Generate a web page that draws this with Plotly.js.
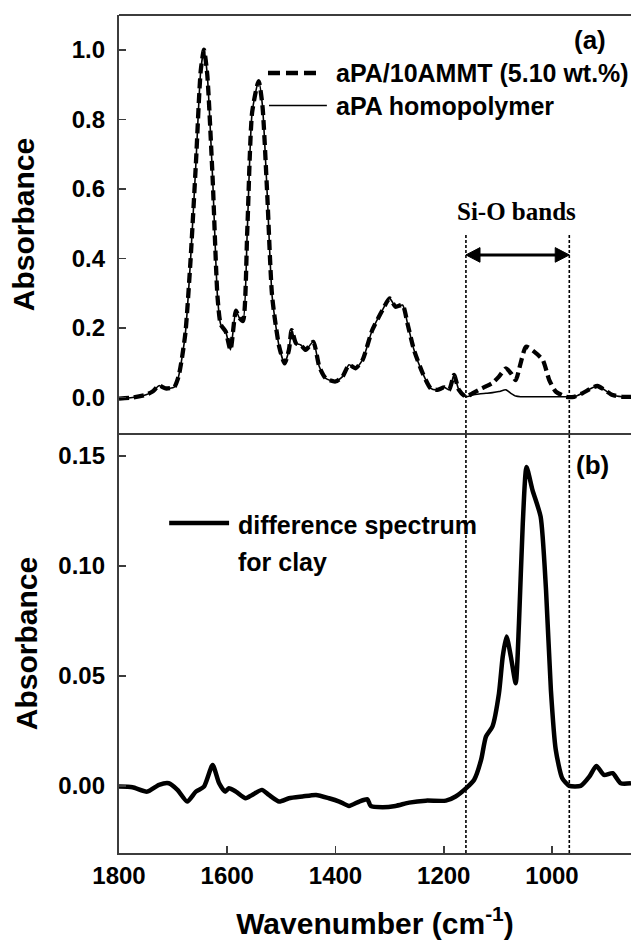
<!DOCTYPE html>
<html>
<head>
<meta charset="utf-8">
<script src="https://cdn.plot.ly/plotly-3.0.1.min.js"></script>
<style>
  html, body { margin: 0; padding: 0; background: #ffffff; }
  #chart { width: 631px; height: 940px; }
</style>
</head>
<body>
<div id="chart"></div>
<script>
// ---------- Data ----------
// Panel (a): FTIR spectra
const wavenumberA = [1800,1775,1750,1738,1726,1714,1698,1690,1684,1677,1668,1658,1649,1643,1637,1627,1618,1612,1603,1594,1584,1578,1571,1563,1554,1542,1535,1526,1517,1504,1494,1486,1481,1473,1464,1455,1441,1430,1418,1400,1387,1375,1363,1350,1332,1313,1300,1289,1276,1267,1255,1239,1224,1212,1199,1190,1181,1172,1159,1147,1135,1122,1110,1098,1085,1076,1067,1058,1048,1033,1017,1005,993,974,959,944,928,916,904,888,870,854];

const compositeAbs = [-0.003,0.000,0.008,0.017,0.034,0.026,0.030,0.060,0.110,0.190,0.390,0.670,0.940,1.000,0.930,0.630,0.290,0.210,0.190,0.137,0.250,0.230,0.220,0.480,0.820,0.910,0.840,0.580,0.290,0.146,0.098,0.137,0.194,0.156,0.151,0.137,0.160,0.089,0.055,0.046,0.060,0.094,0.084,0.108,0.194,0.252,0.285,0.261,0.266,0.213,0.137,0.070,0.026,0.022,0.029,0.022,0.065,0.022,0.002,0.012,0.022,0.032,0.042,0.060,0.084,0.070,0.050,0.098,0.146,0.132,0.108,0.050,0.017,0.002,0.002,0.012,0.026,0.033,0.023,0.007,0.002,0.002];

const homopolymerAbs = [-0.003,0.000,0.008,0.017,0.034,0.026,0.030,0.060,0.110,0.190,0.390,0.670,0.940,1.000,0.930,0.630,0.290,0.210,0.190,0.137,0.250,0.230,0.220,0.480,0.820,0.910,0.840,0.580,0.290,0.146,0.098,0.137,0.194,0.156,0.151,0.137,0.160,0.089,0.055,0.046,0.060,0.094,0.084,0.108,0.194,0.252,0.285,0.261,0.266,0.213,0.137,0.070,0.026,0.022,0.029,0.022,0.065,0.022,0.002,0.007,0.010,0.012,0.014,0.017,0.022,0.012,0.004,0.002,0.002,0.002,0.002,0.002,0.002,0.002,0.002,0.012,0.026,0.033,0.023,0.007,0.002,0.002];

// Panel (b): difference spectrum for clay
const wavenumberB = [1800,1775,1748,1726,1708,1692,1674,1658,1643,1627,1615,1604,1597,1584,1566,1554,1536,1523,1504,1486,1461,1436,1412,1393,1375,1356,1341,1335,1313,1289,1264,1233,1196,1178,1159,1144,1131,1122,1110,1098,1091,1084,1076,1067,1061,1054,1047,1036,1021,1011,1002,993,981,968,947,931,918,904,888,873,854];

const differenceAbs = [-0.0003,-0.0006,-0.0026,0.0005,0.0012,-0.0018,-0.0071,-0.0026,-0.0003,0.0095,0.0012,-0.0026,-0.0011,-0.0026,-0.0056,-0.0041,-0.0018,-0.0041,-0.0071,-0.0056,-0.0048,-0.0041,-0.0056,-0.0071,-0.0091,-0.0071,-0.0061,-0.0091,-0.0097,-0.0091,-0.0076,-0.0067,-0.0067,-0.0048,-0.0011,0.0027,0.0118,0.0224,0.027,0.042,0.0588,0.0679,0.0588,0.0467,0.074,0.119,0.145,0.1345,0.1224,0.089,0.0436,0.0164,0.0035,0.0,0.0,0.0042,0.0091,0.005,0.0058,0.0012,0.0012];

const seriesNames = ["aPA/10AMMT (5.10 wt.%)", "aPA homopolymer", "difference spectrum", "for clay"];
const panelLabels = ["(a)", "(b)"];
const xTickVals = [1800, 1600, 1400, 1200, 1000];
const yTickValsA = [0.0, 0.2, 0.4, 0.6, 0.8, 1.0];
const yTickValsB = [0.00, 0.05, 0.10, 0.15];
const siOBandEdges = [1159, 968];
const siOLabel = "Si-O bands";
const siOArrowLevel = 0.41;

// ---------- Styling ----------
const SANS = "Liberation Sans, Arial, sans-serif";
const SERIF = "Liberation Serif, Times New Roman, serif";
const AXC = "#3c3c3c";

const traces = [
  {
    x: wavenumberA, y: homopolymerAbs, xaxis: "x", yaxis: "y2",
    type: "scatter", mode: "lines", name: seriesNames[1], showlegend: false,
    line: { color: "#000", width: 1.6, shape: "spline", smoothing: 0.6 }
  },
  {
    x: wavenumberA, y: compositeAbs, xaxis: "x", yaxis: "y2",
    type: "scatter", mode: "lines", name: seriesNames[0], showlegend: false,
    line: { color: "#000", width: 4.3, dash: "10px,5px", shape: "spline", smoothing: 0.6 }
  },
  {
    x: wavenumberB, y: differenceAbs, xaxis: "x", yaxis: "y",
    type: "scatter", mode: "lines", name: seriesNames[2] + " " + seriesNames[3], showlegend: false,
    line: { color: "#000", width: 4.5, shape: "spline", smoothing: 0.6 }
  }
];

const tickFont = { family: SANS, size: 24, color: "#000", weight: "bold" };
const titleFont = { family: SANS, size: 30, color: "#000", weight: "bold" };
const legendFont = { family: SANS, size: 25, color: "#000", weight: "bold" };

// arrowhead size for the Si-O arrow (in data units of x and y2)
const headLen = 26, headHalf = 0.021;
const yA = siOArrowLevel, xL = siOBandEdges[0], xR = siOBandEdges[1];

const layout = {
  width: 631, height: 940,
  margin: { l: 119, r: 0, t: 15, b: 87 },
  paper_bgcolor: "#fff", plot_bgcolor: "#fff",
  showlegend: false,
  xaxis: {
    domain: [0, 1], anchor: "y",
    range: [1800, 854], autorange: false,
    tickmode: "array", tickvals: xTickVals,
    ticks: "inside", ticklen: 7, tickwidth: 1.6, tickcolor: AXC,
    showline: true, linewidth: 2.2, linecolor: AXC, mirror: false,
    showgrid: false, zeroline: false,
    tickfont: tickFont, ticklabelstandoff: 0,
    title: { text: "Wavenumber (cm<sup>-1</sup>)", font: titleFont, standoff: 26 }
  },
  yaxis: {
    domain: [0, 0.5], anchor: "x",
    range: [-0.0305, 0.16], autorange: false,
    tickmode: "array", tickvals: yTickValsB, tickformat: ".2f",
    ticks: "inside", ticklen: 7, tickwidth: 1.6, tickcolor: AXC,
    showline: true, linewidth: 2.2, linecolor: AXC,
    showgrid: false, zeroline: false,
    tickfont: tickFont, ticklabelstandoff: 7,
    title: { text: "Absorbance", font: titleFont, standoff: 12 }
  },
  yaxis2: {
    domain: [0.5, 1], anchor: "x",
    range: [-0.105, 1.1], autorange: false,
    tickmode: "array", tickvals: yTickValsA, tickformat: ".1f",
    ticks: "inside", ticklen: 7, tickwidth: 1.6, tickcolor: AXC,
    showline: true, linewidth: 2.2, linecolor: AXC,
    showgrid: false, zeroline: false,
    tickfont: tickFont, ticklabelstandoff: 7,
    title: { text: "Absorbance", font: titleFont, standoff: 28 }
  },
  shapes: [
    // frame: top border and panel separator
    { type: "line", xref: "paper", yref: "paper", x0: 0, x1: 1, y0: 1, y1: 1, line: { color: AXC, width: 2.2 } },
    { type: "line", xref: "paper", yref: "paper", x0: 0, x1: 1, y0: 0.5, y1: 0.5, line: { color: AXC, width: 2.2 } },
    // Si-O band limits
    { type: "line", xref: "x", yref: "paper", x0: siOBandEdges[0], x1: siOBandEdges[0], y0: 0, y1: 0.7375, line: { color: "#000", width: 1.6, dash: "3px,2px" } },
    { type: "line", xref: "x", yref: "paper", x0: siOBandEdges[1], x1: siOBandEdges[1], y0: 0, y1: 0.7375, line: { color: "#000", width: 1.6, dash: "3px,2px" } },
    // Si-O double arrow
    { type: "line", xref: "x", yref: "y2", x0: xL - headLen * 0.5, x1: xR + headLen * 0.5, y0: yA, y1: yA, line: { color: "#000", width: 3 } },
    { type: "path", xref: "x", yref: "y2", fillcolor: "#000", line: { color: "#000", width: 1 },
      path: `M ${xL},${yA} L ${xL - headLen},${yA + headHalf} L ${xL - headLen},${yA - headHalf} Z` },
    { type: "path", xref: "x", yref: "y2", fillcolor: "#000", line: { color: "#000", width: 1 },
      path: `M ${xR},${yA} L ${xR + headLen},${yA + headHalf} L ${xR + headLen},${yA - headHalf} Z` },
    // legend samples panel (a)
    { type: "line", xref: "paper", yref: "y2 domain", x0: 0.291, x1: 0.396, y0: 0.8616, y1: 0.8616, line: { color: "#000", width: 4.3, dash: "12px,6px" } },
    { type: "line", xref: "paper", yref: "y2 domain", x0: 0.293, x1: 0.406, y0: 0.784, y1: 0.784, line: { color: "#000", width: 1.6 } },
    // legend sample panel (b)
    { type: "line", xref: "paper", yref: "y domain", x0: 0.098, x1: 0.215, y0: 0.7876, y1: 0.7876, line: { color: "#000", width: 4.5 } }
  ],
  annotations: [
    // legend texts
    { xref: "paper", yref: "y2 domain", x: 0.42, y: 0.8616, xanchor: "left", yanchor: "middle", showarrow: false,
      text: seriesNames[0], font: legendFont },
    { xref: "paper", yref: "y2 domain", x: 0.42, y: 0.784, xanchor: "left", yanchor: "middle", showarrow: false,
      text: seriesNames[1], font: legendFont },
    { xref: "paper", yref: "y domain", x: 0.229, y: 0.783, xanchor: "left", yanchor: "middle", showarrow: false,
      text: seriesNames[2], font: legendFont },
    { xref: "paper", yref: "y domain", x: 0.229, y: 0.6945, xanchor: "left", yanchor: "middle", showarrow: false,
      text: seriesNames[3], font: legendFont },
    // panel labels
    { xref: "x", yref: "y2", x: 929, y: 1.029, xanchor: "center", yanchor: "middle", showarrow: false,
      text: panelLabels[0], font: { family: SANS, size: 26, color: "#000", weight: "bold" } },
    { xref: "x", yref: "y", x: 926, y: 0.1459, xanchor: "center", yanchor: "middle", showarrow: false,
      text: panelLabels[1], font: { family: SANS, size: 26, color: "#000", weight: "bold" } },
    // Si-O bands label
    { xref: "x", yref: "y2", x: 1066, y: 0.534, xanchor: "center", yanchor: "middle", showarrow: false,
      text: siOLabel, font: { family: SERIF, size: 25, color: "#000", weight: "bold" } }
  ]
};

Plotly.newPlot("chart", traces, layout, { staticPlot: true, displayModeBar: false }).then(function (gd) {
  // drop Plotly's off-screen text-measuring helper and any empty text nodes
  var tester = document.getElementById("js-plotly-tester");
  if (tester && tester.parentNode) { tester.parentNode.removeChild(tester); }
  document.querySelectorAll("svg text").forEach(function (t) {
    if (!t.textContent || !t.textContent.trim()) { t.parentNode.removeChild(t); }
  });
});
</script>
</body>
</html>
